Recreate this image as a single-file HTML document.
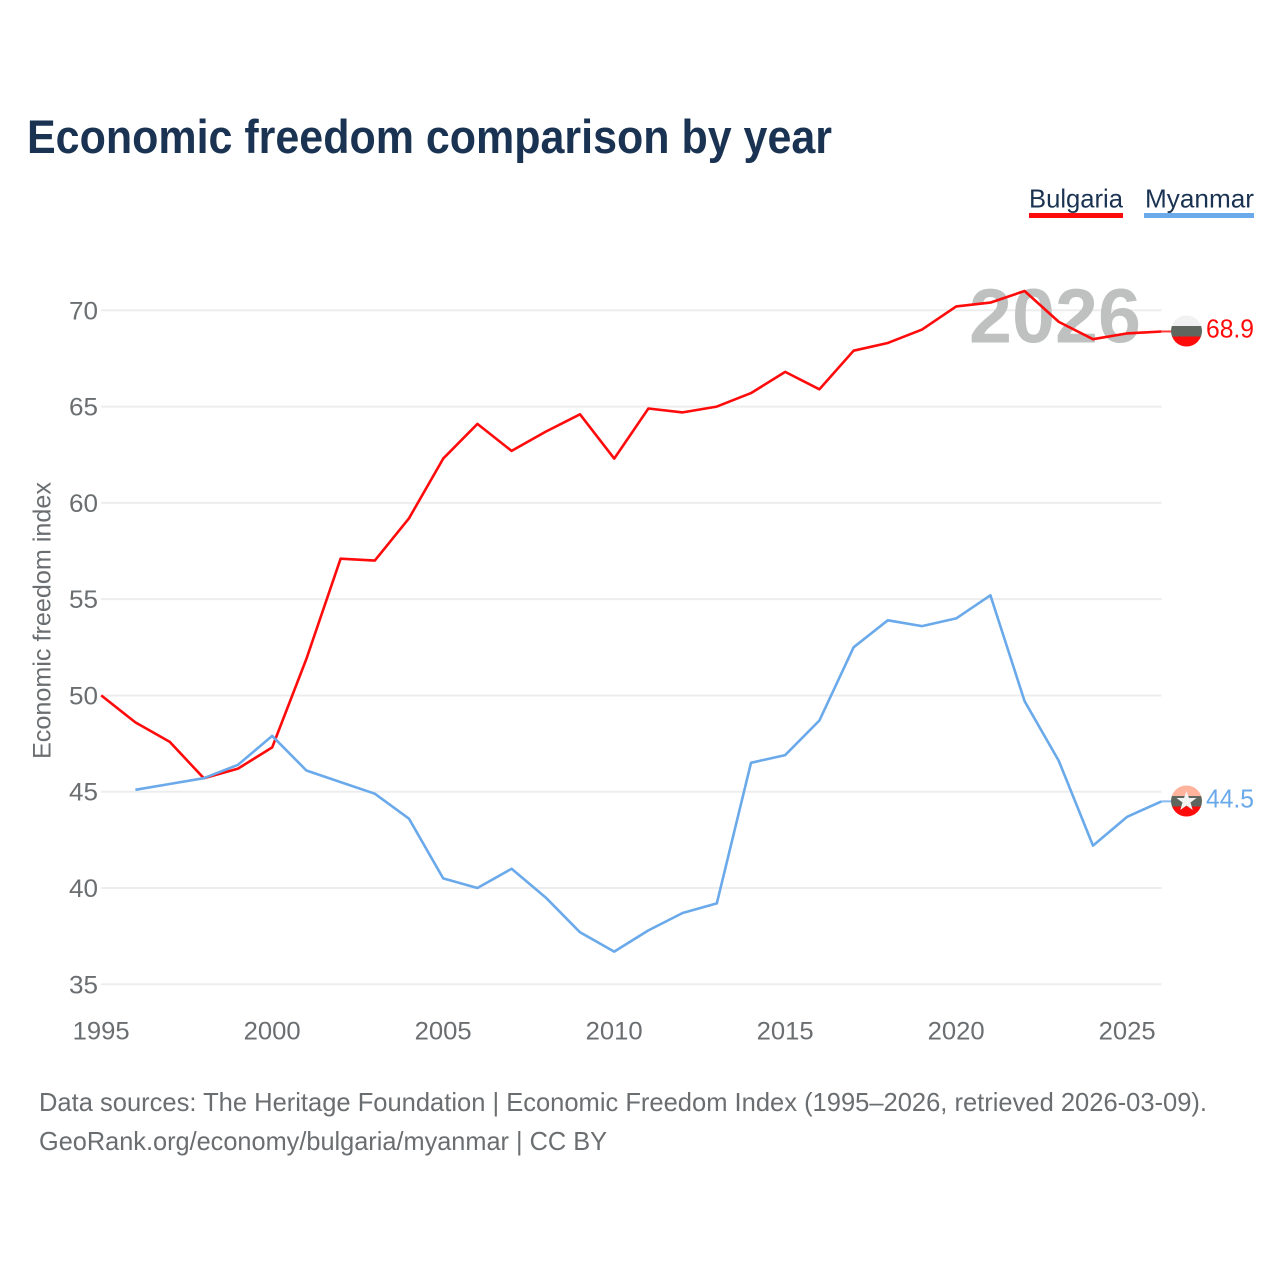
<!DOCTYPE html>
<html lang="en">
<head>
<meta charset="utf-8">
<title>Economic freedom comparison by year</title>
<style>
html,body{margin:0;padding:0;background:#fff;width:1280px;height:1280px;overflow:hidden}
svg{display:block}
text{font-family:"Liberation Sans",sans-serif}
</style>
</head>
<body>
<svg id="chart" width="1280" height="1280" viewBox="0 0 1280 1280" xmlns="http://www.w3.org/2000/svg">
  <rect width="1280" height="1280" fill="#fff"/>
  <text x="27" y="153" font-size="47" font-weight="700" fill="#1a3352" textLength="805" lengthAdjust="spacingAndGlyphs">Economic freedom comparison by year</text>
  <g>
    <text x="1029" y="207.5" font-size="26" fill="#1a3352" textLength="94" lengthAdjust="spacingAndGlyphs">Bulgaria</text>
    <rect x="1029" y="213" width="94" height="5" fill="#ff0b0b"/>
  </g>
  <g>
    <text x="1145" y="207.5" font-size="26" fill="#1a3352" textLength="109" lengthAdjust="spacingAndGlyphs">Myanmar</text>
    <rect x="1144" y="213" width="110" height="5" fill="#6aa9ea"/>
  </g>
  <text transform="translate(50.5,759) rotate(-90)" x="0" y="0" font-size="25" fill="#6b6e70" textLength="277" lengthAdjust="spacingAndGlyphs">Economic freedom index</text>
  <g id="grid"></g>
  <g id="yticks"></g>
  <g id="xticks"></g>
  <text x="969" y="342.5" font-size="77" font-weight="700" fill="#bfc1c1" textLength="172" lengthAdjust="spacingAndGlyphs">2026</text>
  <g id="series"></g>
  <g id="flags"></g>
  <text x="39" y="1111" font-size="26" fill="#6b6e70" textLength="1168" lengthAdjust="spacingAndGlyphs">Data sources: The Heritage Foundation | Economic Freedom Index (1995–2026, retrieved 2026-03-09).</text>
  <text x="39" y="1150" font-size="26" fill="#6b6e70" textLength="568" lengthAdjust="spacingAndGlyphs">GeoRank.org/economy/bulgaria/myanmar | CC BY</text>
  <defs>
    <clipPath id="clip-bg"><circle cx="1186.5" cy="331" r="15.5"/></clipPath>
    <clipPath id="clip-mm"><circle cx="1186.5" cy="801" r="15.5"/></clipPath>
  </defs>
</svg>
<script>
const years = [1995,1996,1997,1998,1999,2000,2001,2002,2003,2004,2005,2006,2007,2008,2009,2010,2011,2012,2013,2014,2015,2016,2017,2018,2019,2020,2021,2022,2023,2024,2025,2026];
const bulgaria = [50.0,48.6,47.6,45.7,46.2,47.3,51.9,57.1,57.0,59.2,62.3,64.1,62.7,63.7,64.6,62.3,64.9,64.7,65.0,65.7,66.8,65.9,67.9,68.3,69.0,70.2,70.4,71.0,69.4,68.5,68.8,68.9];
const myanmar = [null,45.1,45.4,45.7,46.4,47.9,46.1,45.5,44.9,43.6,40.5,40.0,41.0,39.5,37.7,36.7,37.8,38.7,39.2,46.5,46.9,48.7,52.5,53.9,53.6,54.0,55.2,49.7,46.6,42.2,43.7,44.5];
const yTickLabels = [35,40,45,50,55,60,65,70];
const xTickLabels = [1995,2000,2005,2010,2015,2020,2025];

const NS = 'http://www.w3.org/2000/svg';
const xScale = function (year) { return 101.2 + (year - 1995) * 34.2; };
const yScale = function (value) { return 310.3 + (70 - value) * 19.257; };

function make(tag, parent, attrs, content) {
  const node = document.createElementNS(NS, tag);
  Object.keys(attrs).forEach(function (k) { node.setAttribute(k, attrs[k]); });
  if (content !== undefined) node.textContent = content;
  parent.appendChild(node);
  return node;
}

const gridGroup = document.getElementById('grid');
const yGroup = document.getElementById('yticks');
const xGroup = document.getElementById('xticks');
const seriesGroup = document.getElementById('series');
const flagGroup = document.getElementById('flags');

yTickLabels.forEach(function (v) {
  const line = make('line', gridGroup, {x1: 101, x2: 1161.5, y1: yScale(v), y2: yScale(v), stroke: '#ededed', 'stroke-width': 2});
  
  
  const label = make('text', yGroup, {x: 98, y: yScale(v) + 9, 'font-size': 25, fill: '#6b6e70', 'text-anchor': 'end', textLength: 29, lengthAdjust: 'spacingAndGlyphs'}, String(v));
  
  
});

xTickLabels.forEach(function (y) {
  const label = make('text', xGroup, {x: xScale(y), y: 1039.5, 'font-size': 25, fill: '#6b6e70', 'text-anchor': 'middle', textLength: 57, lengthAdjust: 'spacingAndGlyphs'}, String(y));
  
  
});

function seriesPoints(values) {
  const pts = [];
  values.forEach(function (v, i) {
    if (v !== null) pts.push(xScale(years[i]).toFixed(1) + ',' + yScale(v).toFixed(1));
  });
  return pts.join(' ');
}

const lineBulgaria = make('polyline', seriesGroup, {points: seriesPoints(bulgaria), fill: 'none', stroke: '#ff0b0b', 'stroke-width': 2.6, 'stroke-linejoin': 'round'});



const lineMyanmar = make('polyline', seriesGroup, {points: seriesPoints(myanmar), fill: 'none', stroke: '#6aa9ea', 'stroke-width': 2.6, 'stroke-linejoin': 'round'});



const lastBg = bulgaria[bulgaria.length - 1];
const lastMm = myanmar[myanmar.length - 1];
const endX = xScale(years[years.length - 1]);

const stubBg = make('line', seriesGroup, {x1: endX, x2: 1172, y1: yScale(lastBg), y2: yScale(lastBg), stroke: '#ff0b0b', 'stroke-width': 2, opacity: 0.8});


const stubMm = make('line', seriesGroup, {x1: endX, x2: 1172, y1: yScale(lastMm), y2: yScale(lastMm), stroke: '#6aa9ea', 'stroke-width': 2, opacity: 0.8});



const flagBg = make('g', flagGroup, {'clip-path': 'url(#clip-bg)'});


make('rect', flagBg, {x: 1170, y: 315, width: 33, height: 11, fill: '#f1f1f1'});
make('rect', flagBg, {x: 1170, y: 326, width: 33, height: 10.5, fill: '#5f665e'});
make('rect', flagBg, {x: 1170, y: 336.5, width: 33, height: 11, fill: '#ff0b0b'});

const flagMm = make('g', flagGroup, {'clip-path': 'url(#clip-mm)'});


make('rect', flagMm, {x: 1170, y: 785, width: 33, height: 11, fill: '#ffb39c'});
make('rect', flagMm, {x: 1170, y: 796, width: 33, height: 10.5, fill: '#5f665e'});
make('rect', flagMm, {x: 1170, y: 806.5, width: 33, height: 11, fill: '#ff0b0b'});
const star = make('polygon', flagMm, {points: '1186.5,791 1189,798 1196.5,798 1190.5,802.5 1192.7,810 1186.5,805.5 1180.3,810 1182.5,802.5 1176.5,798 1184,798', fill: '#f2f2f2'});



const endBg = make('text', flagGroup, {x: 1254, y: 337.5, 'font-size': 26, fill: '#ff0b0b', 'text-anchor': 'end', textLength: 48, lengthAdjust: 'spacingAndGlyphs'}, lastBg.toFixed(1));


const endMm = make('text', flagGroup, {x: 1254, y: 807.5, 'font-size': 26, fill: '#6aa9ea', 'text-anchor': 'end', textLength: 48, lengthAdjust: 'spacingAndGlyphs'}, lastMm.toFixed(1));


</script>
</body>
</html>
